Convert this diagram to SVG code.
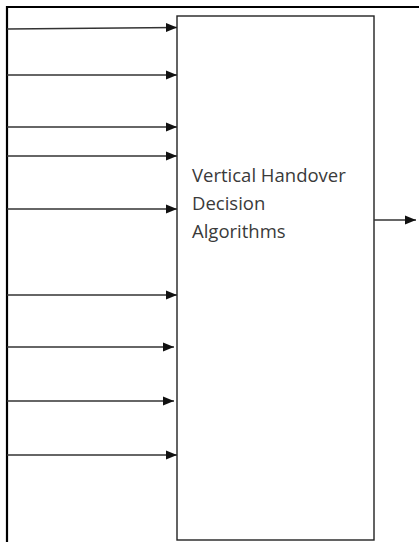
<svg xmlns="http://www.w3.org/2000/svg" width="419" height="542" viewBox="0 0 419 542">
<style>
.frame{stroke:#000;stroke-width:2.2;fill:none}
.box{fill:#fff;stroke:#222;stroke-width:1.4}
.conn{stroke:#333;stroke-width:1.5;fill:none}
.lbl{font-family:"Open Sans","Liberation Sans",sans-serif;font-size:18.5px;fill:#3a3a3a}
</style>
<defs>
<marker id="ah" markerWidth="11" markerHeight="10" refX="11" refY="5" orient="auto" markerUnits="userSpaceOnUse">
<path d="M0,0.5 L11,5 L0,9.5 Z" fill="#111"/>
</marker>
</defs>
<rect width="419" height="542" fill="#fff"/>
<path class="frame" d="M7,542 L7,7 L419,7"/>
<g id="node-vhd">
<rect class="box" x="177" y="16" width="197" height="524"/>
<text class="lbl" x="192" y="181.5">Vertical Handover</text>
<text class="lbl" x="192" y="209.5">Decision</text>
<text class="lbl" x="192" y="238">Algorithms</text>
</g>
<g id="connectors">
<line class="conn" x1="7" y1="29" x2="177" y2="27.5" marker-end="url(#ah)"/>
<line class="conn" x1="7" y1="75" x2="177" y2="75" marker-end="url(#ah)"/>
<line class="conn" x1="7" y1="127" x2="177" y2="127" marker-end="url(#ah)"/>
<line class="conn" x1="7" y1="156" x2="177" y2="156" marker-end="url(#ah)"/>
<line class="conn" x1="7" y1="209" x2="177" y2="209" marker-end="url(#ah)"/>
<line class="conn" x1="7" y1="295" x2="177" y2="295" marker-end="url(#ah)"/>
<line class="conn" x1="7" y1="347" x2="174" y2="347" marker-end="url(#ah)"/>
<line class="conn" x1="7" y1="401" x2="174" y2="401" marker-end="url(#ah)"/>
<line class="conn" x1="7" y1="455" x2="177" y2="455" marker-end="url(#ah)"/>
<line class="conn" x1="374" y1="220" x2="416" y2="220" marker-end="url(#ah)"/>
</g>
</svg>
